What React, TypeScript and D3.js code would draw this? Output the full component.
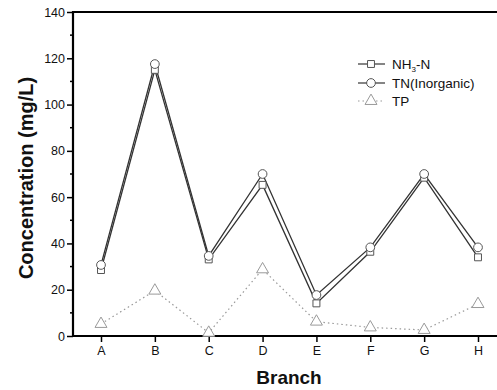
import { useRef, useEffect } from "react";
import * as d3 from "d3";

const branches = ["A", "B", "C", "D", "E", "F", "G", "H"];
const nh3n = [28.5, 115, 33.1, 65.3, 14.1, 36.4, 68.4, 34];
const tnInorganic = [30.7, 117.5, 34.6, 70, 17.7, 38.3, 70, 38.3];
const tp = [5.2, 19.6, 1.4, 28.8, 6.2, 3.7, 2.6, 13.8];
const yTicks = [0, 20, 40, 60, 80, 100, 120, 140];

export default function App() {
  const svgRef = useRef<SVGSVGElement>(null);

  useEffect(() => {
    const svg = d3.select(svgRef.current);
    svg.selectAll("*").remove();
    const width = 497;
    const height = 390;
    const left = 73;
    const top = 12;
    const bottom = 336;
    const font = "Liberation Sans, Arial, sans-serif";

    svg.append("rect").attr("width", width).attr("height", height).attr("fill", "white");

    const x = d3.scalePoint<string>().domain(branches).range([101, 478]);
    const y = d3.scaleLinear().domain([0, 140]).range([bottom, top]);

    // minor y ticks
    svg.append("g")
      .selectAll("line")
      .data(d3.range(10, 140, 20))
      .join("line")
      .attr("x1", left - 3)
      .attr("x2", left)
      .attr("y1", (d) => y(d))
      .attr("y2", (d) => y(d))
      .attr("stroke", "black")
      .attr("stroke-width", 1.5);

    const yAxis = svg.append("g")
      .attr("transform", `translate(${left},0)`)
      .call(d3.axisLeft(y).tickValues(yTicks).tickSize(6).tickPadding(2));
    yAxis.select(".domain").remove();
    yAxis.selectAll("line").attr("stroke-width", 1.5);
    yAxis.selectAll("text").attr("font-family", font).attr("font-size", 12.5).attr("fill", "#111");

    const xAxis = svg.append("g")
      .attr("transform", `translate(0,${bottom})`)
      .call(d3.axisBottom(x).tickSize(6).tickPadding(4));
    xAxis.select(".domain").remove();
    xAxis.selectAll("line").attr("stroke-width", 1.5);
    xAxis.selectAll("text").attr("font-family", font).attr("font-size", 12.5).attr("fill", "#111");

    // frame
    svg.append("line").attr("x1", left).attr("x2", 505).attr("y1", bottom).attr("y2", bottom)
      .attr("stroke", "black").attr("stroke-width", 2.2);
    svg.append("line").attr("x1", left).attr("x2", 505).attr("y1", top).attr("y2", top)
      .attr("stroke", "black").attr("stroke-width", 2.2);
    svg.append("line").attr("x1", left).attr("x2", left).attr("y1", top - 1).attr("y2", bottom + 1)
      .attr("stroke", "black").attr("stroke-width", 2.2);

    const line = d3.line<number>()
      .x((_, i) => x(branches[i])!)
      .y((d) => y(d));

    svg.append("path").datum(nh3n).attr("d", line).attr("fill", "none")
      .attr("stroke", "#333").attr("stroke-width", 1.3);
    svg.append("path").datum(tnInorganic).attr("d", line).attr("fill", "none")
      .attr("stroke", "#333").attr("stroke-width", 1.3);
    svg.append("path").datum(tp).attr("d", line).attr("fill", "none")
      .attr("stroke", "#999").attr("stroke-width", 1.2).attr("stroke-dasharray", "1.5,3");

    const square = d3.symbol().type(d3.symbolSquare).size(48);
    const circle = d3.symbol().type(d3.symbolCircle).size(60);
    const triangle = d3.symbol().type(d3.symbolTriangle).size(62);

    const markers = (data: number[], sym: any, color: string, dy = 0) =>
      svg.append("g")
        .selectAll("path")
        .data(data)
        .join("path")
        .attr("d", sym)
        .attr("transform", (d, i) => `translate(${x(branches[i])},${y(d) + dy})`)
        .attr("fill", "white")
        .attr("stroke", color)
        .attr("stroke-width", 1);

    markers(nh3n, square, "#555");
    markers(tnInorganic, circle, "#555");
    markers(tp, triangle, "#999");

    // legend
    const lg = svg.append("g").attr("font-family", font).attr("font-size", 13.5).attr("fill", "#111");
    const rows = [
      { y: 64, sym: square, color: "#555", stroke: "#333", dash: null },
      { y: 83, sym: circle, color: "#555", stroke: "#333", dash: null },
      { y: 101, sym: triangle, color: "#999", stroke: "#999", dash: "1.5,3" },
    ];
    rows.forEach((r) => {
      lg.append("line").attr("x1", 358).attr("x2", 385).attr("y1", r.y).attr("y2", r.y)
        .attr("stroke", r.stroke).attr("stroke-width", 1.2)
        .attr("stroke-dasharray", r.dash);
      lg.append("path").attr("d", r.sym).attr("transform", `translate(371,${r.y})`)
        .attr("fill", "white").attr("stroke", r.color).attr("stroke-width", 1);
    });
    const t1 = lg.append("text").attr("x", 392).attr("y", 69);
    t1.append("tspan").text("NH");
    t1.append("tspan").attr("font-size", 8).attr("dy", 3).text("3");
    t1.append("tspan").attr("dy", -3).text("-N");
    lg.append("text").attr("x", 392).attr("y", 88).text("TN(Inorganic)");
    lg.append("text").attr("x", 392).attr("y", 106).text("TP");

    // axis titles
    svg.append("text")
      .attr("transform", `translate(33,${(top + bottom) / 2 + 4}) rotate(-90)`)
      .attr("text-anchor", "middle")
      .attr("font-family", font).attr("font-size", 20).attr("font-weight", "bold")
      .attr("fill", "#111")
      .text("Concentration (mg/L)");
    svg.append("text")
      .attr("x", 289).attr("y", 384)
      .attr("text-anchor", "middle")
      .attr("font-family", font).attr("font-size", 19).attr("font-weight", "bold")
      .attr("fill", "#111")
      .text("Branch");
  }, []);

  return (
    <svg
      ref={svgRef}
      width={497}
      height={390}
      style={{ position: "absolute", left: 0, top: 0 }}
    />
  );
}
